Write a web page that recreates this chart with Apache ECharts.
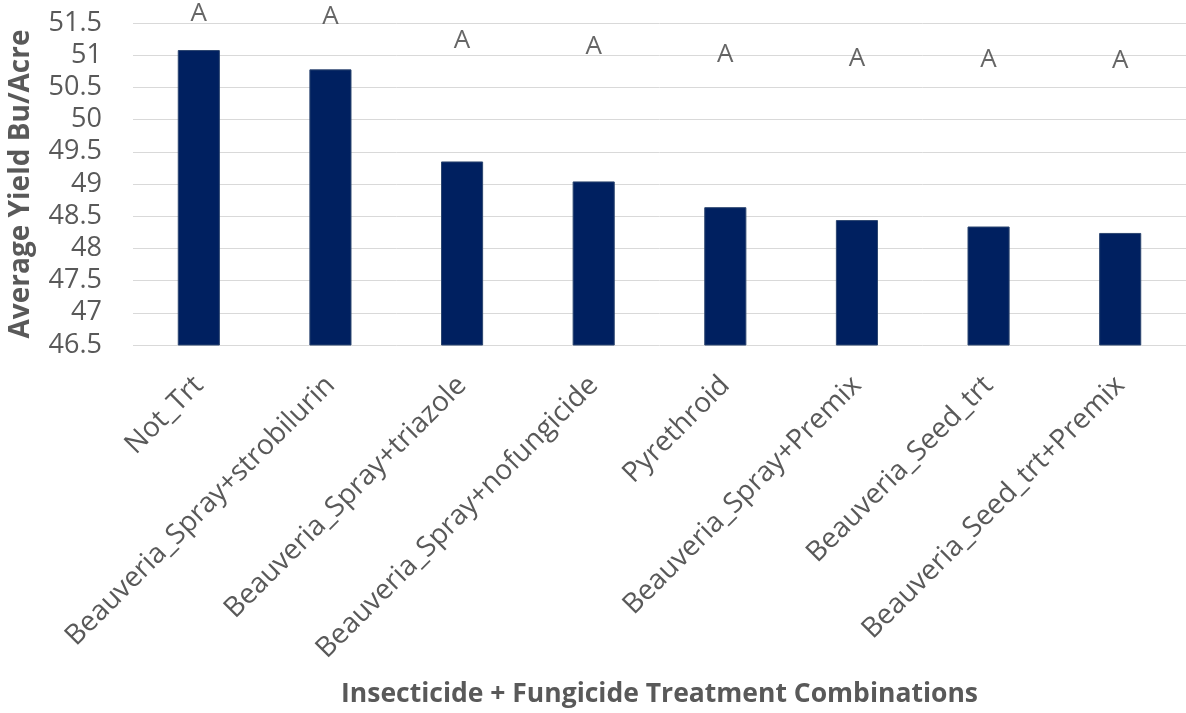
<!DOCTYPE html>
<html>
<head>
<meta charset="utf-8">
<script src="https://cdn.jsdelivr.net/npm/echarts@6/dist/echarts.min.js"></script>
<style>
  html, body { margin: 0; padding: 0; background: #fff; }
  #chart { width: 1186px; height: 713px; }
</style>
</head>
<body>
<div id="chart"></div>
<script>
// treatments, in plotted order
const categories = [
  "Not_Trt",
  "Beauveria_Spray+strobilurin",
  "Beauveria_Spray+triazole",
  "Beauveria_Spray+nofungicide",
  "Pyrethroid",
  "Beauveria_Spray+Premix",
  "Beauveria_Seed_trt",
  "Beauveria_Seed_trt+Premix"
];
// average yield, bu/acre
const yieldValues = [51.08, 50.78, 49.35, 49.04, 48.64, 48.44, 48.34, 48.24];
// significance letters and the height (in bu/acre) they sit at
const letters = ["A", "A", "A", "A", "A", "A", "A", "A"];
const letterY = [51.65, 51.6, 51.23, 51.14, 51.01, 50.95, 50.93, 50.91];

const textColor = "#595959";
const font = "'Open Sans', sans-serif";

const chart = echarts.init(document.getElementById("chart"));
chart.setOption({
  animation: false,
  grid: {
    left: 133,
    right: 0,
    top: 23,
    bottom: 368,
    containLabel: false,
    outerBoundsMode: "none"
  },
  xAxis: {
    type: "category",
    data: categories,
    axisLine: { show: false },
    axisTick: { show: false },
    axisLabel: {
      rotate: 45,
      margin: 36,
      interval: 0,
      color: textColor,
      fontSize: 28,
      fontFamily: font
    },
    name: "Insecticide + Fungicide Treatment Combinations",
    nameLocation: "middle",
    nameGap: 336,
    nameTextStyle: {
      color: textColor,
      fontSize: 26.5,
      fontWeight: "bold",
      fontFamily: font
    }
  },
  yAxis: {
    type: "value",
    min: 46.5,
    max: 51.5,
    interval: 0.5,
    axisLine: { show: false },
    axisTick: { show: false },
    splitLine: { lineStyle: { color: "#d9d9d9", width: 1 } },
    axisLabel: {
      margin: 31,
      color: textColor,
      fontSize: 27,
      fontFamily: font
    },
    name: "Average Yield Bu/Acre",
    nameLocation: "middle",
    nameGap: 98,
    nameTextStyle: {
      color: textColor,
      fontSize: 28,
      fontWeight: "bold",
      fontFamily: font
    }
  },
  series: [
    {
      type: "bar",
      data: yieldValues,
      barWidth: "32%",
      itemStyle: {
        color: "#002060",
        borderColor: "#2c4670",
        borderWidth: 1
      }
    },
    {
      type: "scatter",
      data: letterY,
      symbolSize: 2,
      itemStyle: { color: "rgba(0,0,0,0)" },
      clip: false,
      label: {
        show: true,
        position: "inside",
        formatter: (p) => letters[p.dataIndex],
        color: "#404040",
        fontSize: 26,
        fontFamily: font
      }
    }
  ]
});
</script>
</body>
</html>
